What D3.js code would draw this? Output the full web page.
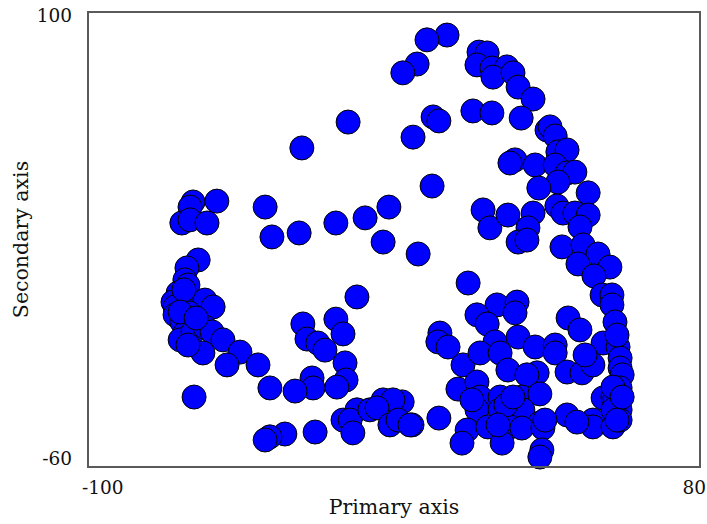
<!DOCTYPE html>
<html>
<head>
<meta charset="utf-8">
<script src="https://cdn.jsdelivr.net/npm/d3@7"></script>
<style>
  html, body { margin: 0; padding: 0; background: #fff; }
  svg text { font-family: "DejaVu Serif", "Liberation Serif", serif; fill: #111; }
</style>
</head>
<body>
<svg id="chart" width="707" height="524"></svg>
<script>
// Axis ranges and end labels
const xDomain = [-100, 80];
const yDomain = [-60, 100];
const xTickLabels = ["-100", "80"];
const yTickLabels = ["-60", "100"];
const xTitle = "Primary axis";
const yTitle = "Secondary axis";

// Point groups, [primary, secondary]
const upperArc = [
  [5.6, 91.9], [-0.3, 90.2], [-3.2, 81.7], [-7.4, 78.6], [15.0, 85.9], [17.4, 85.6],
  [14.4, 81.4], [18.8, 80.3], [23.2, 80.7], [19.1, 77.1], [25.0, 78.6], [26.5, 73.6],
  [30.9, 69.4], [13.2, 65.2], [18.8, 64.5], [27.4, 62.7], [1.5, 63.1], [3.2, 61.7],
  [-4.4, 56.0], [-23.5, 61.3], [35.0, 58.5], [35.9, 59.6], [37.4, 56.4], [38.2, 50.8],
  [40.9, 51.5], [25.6, 48.0], [24.1, 46.9], [31.5, 46.2], [37.4, 46.2], [40.9, 43.4],
  [43.2, 43.7], [38.2, 40.2], [32.6, 38.1], [47.1, 36.4], [1.2, 38.8], [-37.1, 52.2]
];

const middleBand = [
  [-69.1, 33.2], [-62.1, 33.5], [-70.0, 31.4], [-72.4, 25.8], [-70.0, 26.9], [-65.0, 25.8],
  [-47.9, 31.4], [-45.9, 20.9], [-37.9, 22.3], [-27.1, 25.8], [-18.5, 27.6], [-11.5, 31.4],
  [-13.2, 19.1], [-2.9, 14.9], [16.2, 30.4], [18.2, 24.1], [23.5, 28.6], [30.9, 29.3],
  [29.4, 24.1], [26.5, 19.1], [29.1, 19.8], [37.9, 31.8], [39.7, 29.3], [43.2, 29.3],
  [47.1, 28.6], [44.7, 24.4], [39.4, 17.4], [45.6, 18.1], [50.0, 14.9], [44.1, 11.4],
  [53.5, 10.3], [48.8, 7.2], [51.2, 0.5], [54.1, 0.5], [54.1, -3.0], [55.0, -9.0],
  [41.2, -7.6], [44.7, -11.8]
];

const leftCluster = [
  [-67.6, 12.8], [-70.9, 10.0], [-71.5, 5.8], [-70.6, 4.0], [-73.5, 1.2], [-75.0, -2.0],
  [-74.4, -3.7], [-70.0, -2.3], [-65.6, -1.3], [-63.2, -3.7], [-70.3, -5.8], [-74.4, -6.5],
  [-72.4, -9.0], [-71.5, -12.9], [-72.9, -15.3], [-69.1, -12.5], [-65.6, -10.8], [-63.5, -12.5],
  [-60.3, -15.3], [-66.2, -19.9], [-55.3, -19.6], [-59.1, -24.1], [-50.0, -24.1], [-46.5, -32.2],
  [-68.8, -35.4], [-71.8, 2.3], [-72.9, -5.5], [-68.2, -7.6], [-70.6, -17.1]
];

const centralGroup = [
  [-20.9, -0.2], [-36.8, -9.7], [-35.6, -15.0], [-32.4, -16.4], [-30.3, -18.9], [-27.1, -8.0],
  [-25.0, -13.2], [-24.4, -23.4], [-24.1, -29.4], [-26.8, -31.9], [-34.1, -28.7], [-33.8, -32.2],
  [-39.1, -33.3], [11.8, 4.7], [20.3, -3.0], [26.2, -2.0], [25.6, -5.8], [14.4, -6.5],
  [17.4, -9.7], [26.5, -14.3], [19.7, -16.0], [3.5, -12.9], [2.9, -16.0], [5.9, -17.8],
  [10.3, -24.1], [15.3, -19.9], [21.2, -19.9], [23.5, -25.9], [31.5, -17.8], [37.4, -17.1],
  [37.4, -19.9], [32.1, -26.9], [40.9, -26.6], [45.3, -26.9], [48.5, -24.1], [51.5, -16.4],
  [55.9, -17.8], [56.5, -21.7], [56.5, -25.2], [57.1, -27.6], [46.2, -20.6], [29.1, -27.6],
  [55.6, -13.6]
];

const lowerBand = [
  [8.8, -32.6], [14.4, -30.1], [15.3, -35.4], [21.2, -35.4], [27.6, -35.4], [32.9, -34.3],
  [14.4, -39.9], [21.2, -39.9], [27.9, -39.9], [32.9, -44.5], [40.9, -41.7], [48.5, -43.5],
  [51.5, -35.7], [54.4, -35.4], [56.5, -39.9], [56.5, -32.2], [3.2, -42.8], [-4.7, -45.2],
  [-7.6, -37.1], [11.5, -47.0], [17.6, -45.9], [24.1, -45.9], [27.6, -46.3], [33.8, -46.3],
  [48.5, -45.9], [54.4, -45.9], [56.5, -43.5], [10.0, -51.6], [21.8, -51.6], [33.5, -54.0],
  [32.9, -56.5], [22.9, -38.2], [25.0, -35.4], [34.4, -43.5], [43.8, -44.2], [55.0, -35.7],
  [54.4, -39.9], [55.6, -43.5], [12.9, -36.4], [20.6, -45.2], [-20.9, -39.9], [-13.2, -36.4],
  [-10.3, -36.4], [-25.0, -43.5], [-22.9, -43.5], [-17.1, -39.9], [-22.1, -48.0], [-33.2, -47.7],
  [-42.1, -48.4], [-46.5, -49.4], [-47.9, -50.5], [-15.0, -39.2], [-11.2, -45.2], [-8.8, -43.5],
  [-5.3, -45.2], [54.4, -31.9], [57.1, -35.4]
];

const points = [].concat(upperArc, middleBand, leftCluster, centralGroup, lowerBand);

const svg = d3.select("#chart");
const plot = { left: 88, top: 12, right: 700, bottom: 467 };

const x = d3.scaleLinear().domain(xDomain).range([plot.left, plot.right]);
const y = d3.scaleLinear().domain(yDomain).range([plot.bottom, plot.top]);

// Markers
svg.append("g")
  .selectAll("circle")
  .data(points)
  .join("circle")
  .attr("cx", d => x(d[0]))
  .attr("cy", d => y(d[1]))
  .attr("r", 12)
  .attr("fill", "#0000ff")
  .attr("stroke", "#000")
  .attr("stroke-width", 1);

// Frame
svg.append("rect")
  .attr("x", plot.left)
  .attr("y", plot.top)
  .attr("width", plot.right - plot.left)
  .attr("height", plot.bottom - plot.top)
  .attr("fill", "none")
  .attr("stroke", "#5a5a5a")
  .attr("stroke-width", 2);

const tickSize = 18.5;
const titleSize = 20.5;

// End labels on the primary axis
svg.append("text")
  .attr("x", x(xDomain[0]) - 6)
  .attr("y", plot.bottom + 27)
  .attr("text-anchor", "start")
  .attr("font-size", tickSize)
  .text(xTickLabels[0]);
svg.append("text")
  .attr("x", x(xDomain[1]) + 6)
  .attr("y", plot.bottom + 27)
  .attr("text-anchor", "end")
  .attr("font-size", tickSize)
  .text(xTickLabels[1]);

// End labels on the secondary axis
svg.append("text")
  .attr("x", plot.left - 16)
  .attr("y", y(yDomain[0]) - 2)
  .attr("text-anchor", "end")
  .attr("font-size", tickSize)
  .text(yTickLabels[0]);
svg.append("text")
  .attr("x", plot.left - 16)
  .attr("y", y(yDomain[1]) + 10)
  .attr("text-anchor", "end")
  .attr("font-size", tickSize)
  .text(yTickLabels[1]);

// Axis titles
svg.append("text")
  .attr("x", (plot.left + plot.right) / 2)
  .attr("y", 514)
  .attr("text-anchor", "middle")
  .attr("font-size", titleSize)
  .text(xTitle);
svg.append("text")
  .attr("transform", `translate(28, ${(plot.top + plot.bottom) / 2}) rotate(-90)`)
  .attr("text-anchor", "middle")
  .attr("font-size", titleSize)
  .text(yTitle);
</script>
</body>
</html>
